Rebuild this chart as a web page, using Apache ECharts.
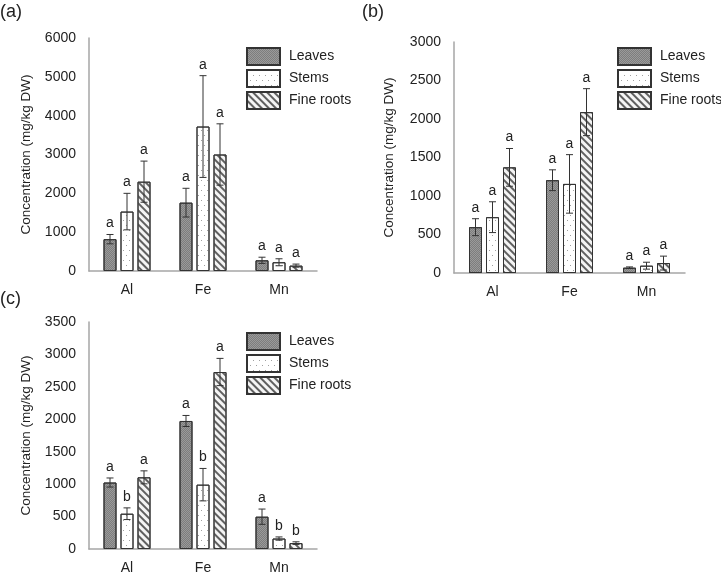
<!DOCTYPE html>
<html>
<head>
<meta charset="utf-8">
<script src="https://cdn.jsdelivr.net/npm/echarts@6/dist/echarts.min.js"></script>
<style>
  html, body { margin: 0; padding: 0; background: #fff; }
  #chart { width: 721px; height: 575px; }
</style>
</head>
<body>
<div id="chart"></div>
<script>
// ---- data ----
const elements = ['Al', 'Fe', 'Mn'];
const tissues = ['Leaves', 'Stems', 'Fine roots'];

// panel (a)
const aMeans = [[820, 1760, 275], [1530, 3720, 225], [2300, 3000, 138]];
const aErrs = [[120, 370, 80], [470, 1310, 90], [530, 790, 40]];
const aLetters = [['a', 'a', 'a'], ['a', 'a', 'a'], ['a', 'a', 'a']];

// panel (b)
const bMeans = [[595, 1205, 69], [725, 1157, 95], [1372, 2089, 129]];
const bErrs = [[110, 135, 10], [200, 380, 45], [245, 305, 90]];
const bLetters = [['a', 'a', 'a'], ['a', 'a', 'a'], ['a', 'a', 'a']];

// panel (c)
const cMeans = [[1025, 1974, 498], [544, 992, 161], [1105, 2729, 91]];
const cErrs = [[70, 85, 118], [90, 250, 25], [100, 210, 20]];
const cLetters = [['a', 'a', 'a'], ['b', 'b', 'b'], ['a', 'a', 'b']];

const yMax = [6000, 3000, 3500];
const yStep = [1000, 500, 500];

// ---- styles ----
const FONT = 'Liberation Sans, Arial, sans-serif';
const AXIS_GREY = '#a6a6a6';
const TEXT = '#222';
const BAR_W = 13;
const BAR_GAP = 4;

const tissueStyle = [
  { // leaves: grey stipple
    color: '#9a9a9a',
    decal: {
      symbol: 'rect', symbolSize: 1, color: 'rgba(60,60,60,0.3)',
      dashArrayX: [[1, 1], [0, 1, 1, 0]], dashArrayY: [1, 0]
    }
  },
  { // stems: sparse dots on white
    color: '#ffffff',
    decal: {
      symbol: 'rect', symbolSize: 1, color: '#a0a0a0',
      dashArrayX: [[1, 5], [0, 3, 1, 2]], dashArrayY: [1, 4]
    }
  },
  { // fine roots: diagonal hatch
    color: '#f4f4f4',
    decal: {
      symbol: 'rect', symbolSize: 1, color: '#606060',
      dashArrayX: [1, 0], dashArrayY: [1.1, 2.1], rotation: Math.PI / 4
    }
  }
];

const panels = [
  { means: aMeans, errs: aErrs, letters: aLetters, grid: { left: 89, top: 38, width: 228, height: 233 }, legend: { left: 246, top: 47 }, tag: '(a)', tagPos: [0, 3], nameGap: 56 },
  { means: bMeans, errs: bErrs, letters: bLetters, grid: { left: 454, top: 42, width: 231, height: 231 }, legend: { left: 617, top: 47 }, tag: '(b)', tagPos: [362, 3], nameGap: 58 },
  { means: cMeans, errs: cErrs, letters: cLetters, grid: { left: 89, top: 322, width: 228, height: 231 }, legend: { left: 246, top: 332 }, tag: '(c)', tagPos: [0, 290], nameGap: 56 }
];

// ---- build option ----
const grids = [], xAxes = [], yAxes = [], series = [], legends = [], titles = [];

panels.forEach((p, pi) => {
  grids.push(p.grid);
  xAxes.push({
    type: 'category', gridIndex: pi, data: elements,
    axisLine: { lineStyle: { color: AXIS_GREY, width: 1.5 } },
    axisTick: { show: false },
    axisLabel: { color: TEXT, fontSize: 14, fontFamily: FONT, margin: 12 }
  });
  yAxes.push({
    type: 'value', gridIndex: pi, min: 0, max: yMax[pi], interval: yStep[pi],
    name: 'Concentration (mg/kg DW)', nameLocation: 'middle', nameGap: p.nameGap,
    nameTextStyle: { color: TEXT, fontSize: 13.5, fontFamily: FONT },
    axisLine: { show: true, lineStyle: { color: AXIS_GREY, width: 1.5 } },
    axisTick: { show: false },
    splitLine: { show: false },
    axisLabel: { color: TEXT, fontSize: 14, fontFamily: FONT, margin: 13, formatter: v => String(v) }
  });

  tissues.forEach((t, ti) => {
    series.push({
      type: 'bar', name: t, xAxisIndex: pi, yAxisIndex: pi,
      barWidth: BAR_W, barGap: (BAR_GAP / BAR_W * 100) + '%',
      data: p.means[ti],
      itemStyle: Object.assign({ borderColor: '#333', borderWidth: 1 }, tissueStyle[ti]),
      emphasis: { disabled: true },
      z: 2
    });
  });

  // error bars + significance letters
  const errData = [];
  tissues.forEach((t, ti) => {
    elements.forEach((e, ei) => {
      errData.push([ei, ti, p.means[ti][ei], p.errs[ti][ei], p.letters[ti][ei]]);
    });
  });
  series.push({
    type: 'custom', xAxisIndex: pi, yAxisIndex: pi, z: 5,
    data: errData,
    silent: true,
    renderItem: (params, api) => {
      const ei = api.value(0), ti = api.value(1);
      const m = api.value(2), e = api.value(3);
      const letter = errData[params.dataIndex][4];
      const x = api.coord([ei, 0])[0] + (ti - 1) * (BAR_W + BAR_GAP);
      const yTop = api.coord([ei, m + e])[1];
      const yBot = api.coord([ei, Math.max(0, m - e)])[1];
      const cap = 3.5;
      const ls = { stroke: '#333', lineWidth: 1 };
      return {
        type: 'group',
        children: [
          { type: 'line', shape: { x1: x, y1: yTop, x2: x, y2: yBot }, style: ls },
          { type: 'line', shape: { x1: x - cap, y1: yTop, x2: x + cap, y2: yTop }, style: ls },
          { type: 'line', shape: { x1: x - cap, y1: yBot, x2: x + cap, y2: yBot }, style: ls },
          { type: 'text', style: { text: letter, x: x, y: yTop - 11, align: 'center', verticalAlign: 'middle', fill: TEXT, font: '14px ' + FONT } }
        ]
      };
    }
  });

  legends.push({
    data: tissues, orient: 'vertical', left: p.legend.left, top: p.legend.top,
    padding: 0,
    icon: 'rect', itemWidth: 33, itemHeight: 17, itemGap: 3,
    selectedMode: false,
    textStyle: { color: TEXT, fontSize: 14, fontFamily: FONT, padding: [0, 0, 0, 4] }
  });

  titles.push({
    text: p.tag, left: p.tagPos[0], top: p.tagPos[1], padding: 0,
    textStyle: { color: TEXT, fontSize: 18, fontWeight: 'normal', fontFamily: FONT }
  });
});

const chart = echarts.init(document.getElementById('chart'));
chart.setOption({
  backgroundColor: '#fff',
  animation: false,
  title: titles,
  legend: legends,
  grid: grids,
  xAxis: xAxes,
  yAxis: yAxes,
  series: series
});
</script>
</body>
</html>
